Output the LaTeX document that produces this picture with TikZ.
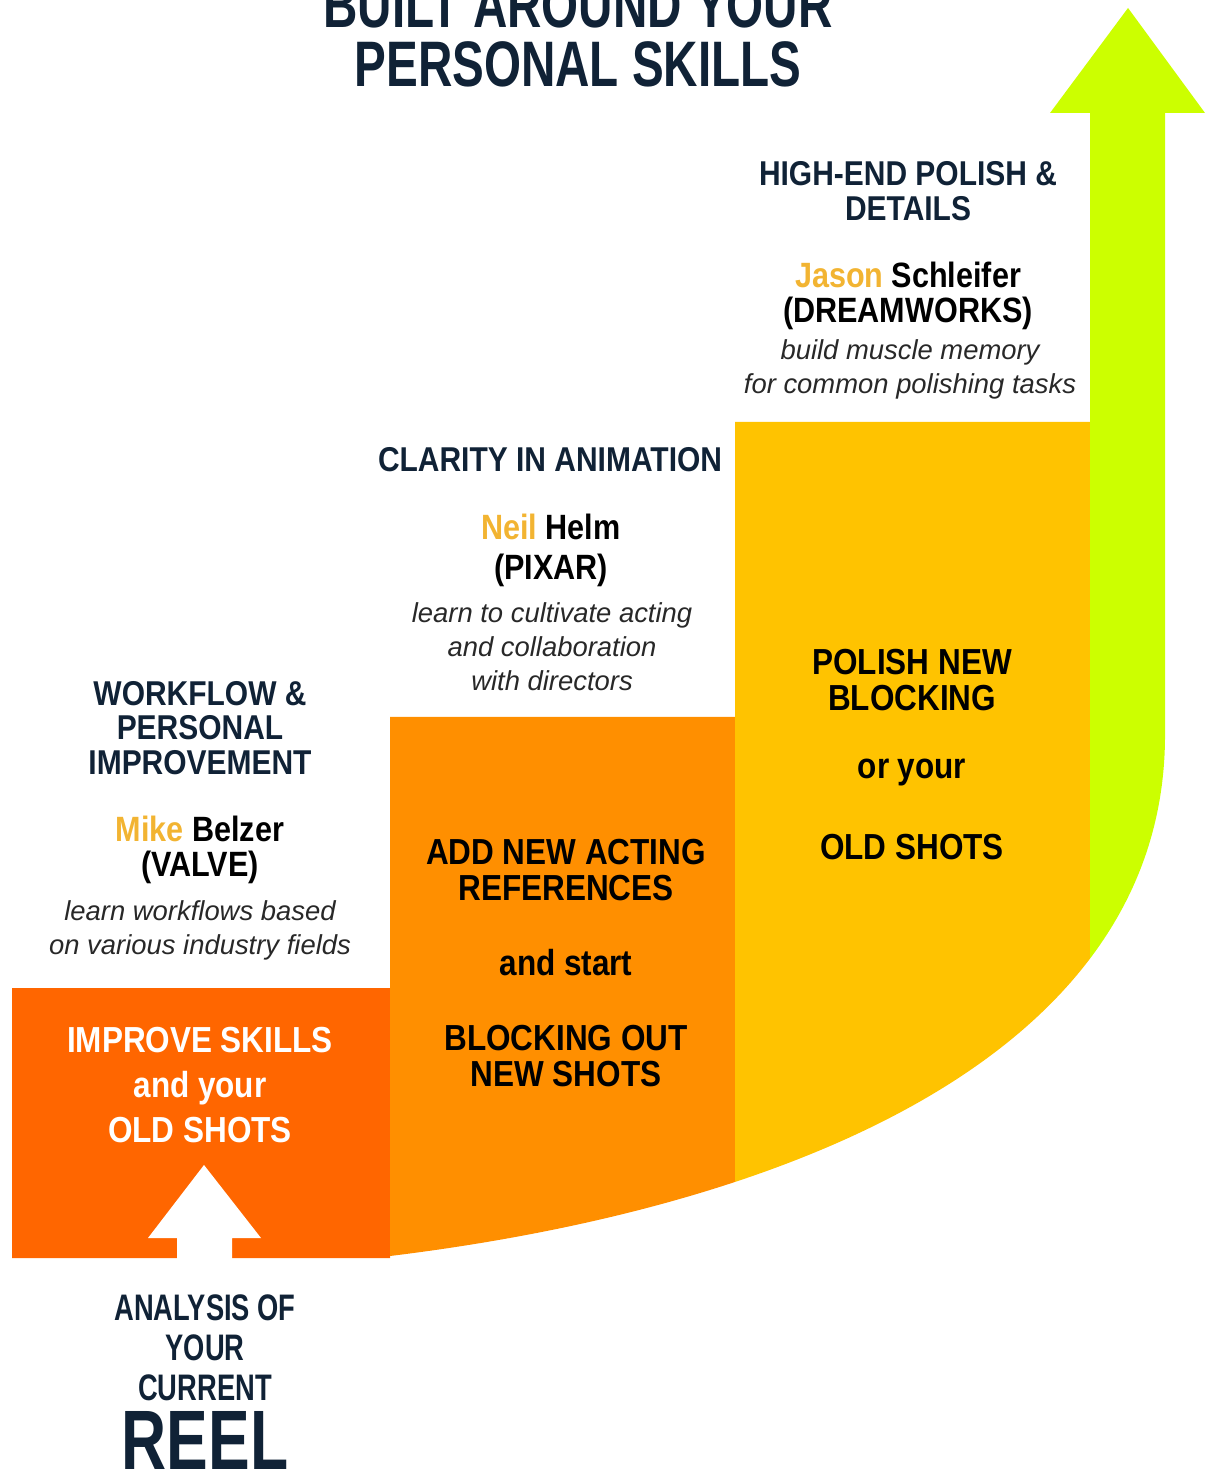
\documentclass[tikz,border=0pt]{standalone}
\usepackage{fontspec}
\usepackage{tikz}
\usepackage{xcolor}
\setmainfont{Liberation Sans}[FakeStretch=0.87]
\newfontfamily\titlefont{Liberation Sans}[FakeStretch=0.74]
\newfontfamily\notefont{Liberation Sans}
\definecolor{stepred}{RGB}{255, 102, 0}
\definecolor{steporange}{RGB}{255, 143, 0}
\definecolor{stepyellow}{RGB}{255, 195, 0}
\definecolor{stepgreen}{RGB}{204, 255, 0}
\definecolor{headnavy}{RGB}{16, 34, 54}
\definecolor{namegold}{RGB}{242, 180, 50}
\definecolor{notegray}{RGB}{40, 40, 40}
\tikzset{
    headtext/.style={align=center, text=headnavy, inner sep=0pt, font=\fontsize{9.8}{9.8}\selectfont\bfseries},
    nametext/.style={align=center, text=black, inner sep=0pt, font=\fontsize{10}{10}\selectfont\bfseries},
    notetext/.style={align=center, text=notegray, inner sep=0pt, font=\notefont\fontsize{7.8}{9.7}\selectfont\itshape},
    steptext/.style={align=center, text=black, inner sep=0pt, font=\fontsize{10.3}{10.3}\selectfont\bfseries},
    bigtext/.style={align=center, text=headnavy, inner sep=0pt, font=\titlefont\bfseries}
}

\begin{document}
\begin{tikzpicture}[x=0.1mm, y=-0.1mm]
    \useasboundingbox (0,0) rectangle (1208,1475);
    % stairs and the green arrow
    \begin{scope}
        \clip (12,988) -- (390,988) -- (390,717) -- (735,717) -- (735,422) -- (1090,422)
            -- (1090,110) -- (1165,110) -- (1165,735)
            .. controls (1165,1055) and (790,1207) .. (390,1256) -- (390,1258) -- (12,1258) -- cycle;
        \fill[stepred] (0,0) rectangle (390,1300);
        \fill[steporange] (390,0) rectangle (735,1300);
        \fill[stepyellow] (735,0) rectangle (1090,1300);
        \fill[stepgreen] (1090,0) rectangle (1208,1300);
    \end{scope}
    \fill[stepgreen] (1050,113) -- (1128,8) -- (1205,113) -- cycle;
    \fill[white] (177,1259) -- (177,1238) -- (148,1238) -- (204,1165) -- (261,1238) -- (232,1238) -- (232,1259) -- cycle;

    % title
    \node[bigtext, font=\titlefont\bfseries\fontsize{18.3}{16.8}\selectfont] (title) at (578,35) {BUILT AROUND YOUR\\PERSONAL SKILLS};

    % step 3
    \node[headtext] (head3) at (908,191) {HIGH-END POLISH \&\\DETAILS};
    \node[nametext] (name3) at (908,296) {\textcolor{namegold}{Jason} Schleifer\\(DREAMWORKS)};
    \node[notetext] (note3) at (910,369) {build muscle memory\\for common polishing tasks};
    \node[steptext] (step3a) at (912,680) {POLISH NEW\\BLOCKING};
    \node[steptext] (step3b) at (912,773) {or your};
    \node[steptext] (step3c) at (912,847) {OLD SHOTS};

    % step 2
    \node[headtext] (head2) at (550,460) {CLARITY IN ANIMATION};
    \node[nametext, font=\fontsize{10}{11.4}\selectfont\bfseries] (name2) at (551,550) {\textcolor{namegold}{Neil} Helm\\(PIXAR)};
    \node[notetext] (note2) at (552,647) {learn to cultivate acting\\and collaboration\\with directors};
    \node[steptext] (step2a) at (566,870) {ADD NEW ACTING\\REFERENCES};
    \node[steptext] (step2b) at (566,963) {and start};
    \node[steptext] (step2c) at (566,1056) {BLOCKING OUT\\NEW SHOTS};

    % step 1
    \node[headtext] (head1) at (200,728) {WORKFLOW \&\\PERSONAL\\IMPROVEMENT};
    \node[nametext] (name1) at (200,850) {\textcolor{namegold}{Mike} Belzer\\(VALVE)};
    \node[notetext] (note1) at (200,930) {learn workflows based\\on various industry fields};
    \node[steptext, text=white, font=\fontsize{10.3}{12.8}\selectfont\bfseries] (step1) at (200,1085) {IMPROVE SKILLS\\and your\\OLD SHOTS};

    % start
    \node[bigtext, font=\titlefont\bfseries\fontsize{10.5}{11.4}\selectfont] (reel) at (205,1348) {ANALYSIS OF\\YOUR\\CURRENT};
    \node[bigtext, font=\titlefont\bfseries\fontsize{24}{24}\selectfont] (reelbig) at (205,1440) {REEL};
\end{tikzpicture}
\end{document}
